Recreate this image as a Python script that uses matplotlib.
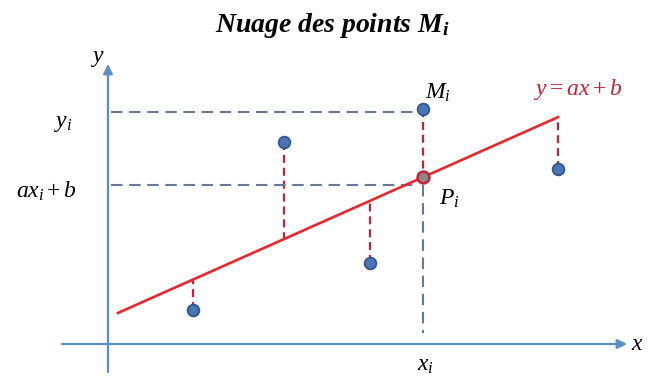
import matplotlib.pyplot as plt
import numpy as np

plt.rcParams['mathtext.fontset'] = 'custom'
plt.rcParams['mathtext.rm'] = 'Liberation Serif'
plt.rcParams['mathtext.it'] = 'Liberation Serif:italic'
plt.rcParams['mathtext.bf'] = 'Liberation Serif:bold:italic'

# Points du nuage et droite d'ajustement y = a x + b
xs = [8.5, 17.6, 26.2, 31.5, 45.0]
ys = [3.4, 20.2, 8.1, 23.5, 17.5]
a = 0.445
b = 2.66
i_pt = 3  # indice du point M_i
line_x = [1.0, 45.0]

fig = plt.figure(figsize=(6.55, 3.76), dpi=100)
ax = fig.add_axes([0, 0, 1, 1])
ax.set_xlim(-10.8, 54.7)
ax.set_ylim(-3.2, 34.4)
ax.axis('off')

axis_col = '#5b8cc4'
gray = '#667a96'
red = '#e8262d'
dred = '#c42235'

# axes avec flèches
ax.annotate('', xy=(51.9, 0), xytext=(-4.6, 0),
            arrowprops=dict(arrowstyle='-|>', color=axis_col, lw=1.6,
                            mutation_scale=14, shrinkA=0, shrinkB=0))
ax.annotate('', xy=(0, 28.0), xytext=(0, -2.8),
            arrowprops=dict(arrowstyle='-|>', color=axis_col, lw=1.6,
                            mutation_scale=14, shrinkA=0, shrinkB=0))

# droite de régression
lx = np.array(line_x)
ax.plot(lx, a * lx + b, color=red, lw=1.9, zorder=3)

# écarts verticaux entre les points et la droite
for x, y in zip(xs, ys):
    ax.plot([x, x], [y, a * x + b], color=dred, lw=1.6,
            dashes=(3.6, 2.2), zorder=2)

# projections de M_i et P_i
xi, yi = xs[i_pt], ys[i_pt]
pi = a * xi + b
ax.plot([0.3, xi - 0.6], [yi - 0.3, yi - 0.3], color=gray, lw=1.5, dashes=(5.5, 3.2))
ax.plot([0.3, xi - 0.6], [pi - 0.8, pi - 0.8], color=gray, lw=1.5, dashes=(5.5, 3.2))
ax.plot([xi, xi], [pi - 0.8, 1.1], color=gray, lw=1.5, dashes=(5.5, 3.2))

# points
ax.plot(xs, ys, 'o', color='#4a74b4', mec='#2f5490', mew=1.2, ms=8.5, zorder=4)
ax.plot([xi], [pi], 'o', color='#8a8a8a', mec=dred, mew=1.8, ms=8.5, zorder=5)

# textes
fs = 17
ax.text(22.4, 31.9, r'$\mathbf{Nuage\ des\ points\ M_i}$', fontsize=20,
        ha='center', va='center')
ax.text(-1.0, 28.7, r'$y$', fontsize=fs, ha='center', va='center')
ax.text(52.9, 0.1, r'$x$', fontsize=fs, ha='center', va='center')
ax.text(-4.5, 22.2, r'$y_i$', fontsize=fs, ha='center', va='center')
ax.text(-6.2, 15.3, r'$ax_i+b$', fontsize=fs, ha='center', va='center')
ax.text(xi + 1.5, 25.2, r'$M_i$', fontsize=fs, ha='center', va='center')
ax.text(xi + 2.6, 14.6, r'$P_i$', fontsize=fs, ha='center', va='center')
ax.text(xi + 0.2, -2.0, r'$x_i$', fontsize=fs, ha='center', va='center')
ax.text(47.0, 25.4, r'$y=ax+b$', fontsize=fs, color=dred,
        ha='center', va='center')

plt.savefig('out.png', dpi=100)
